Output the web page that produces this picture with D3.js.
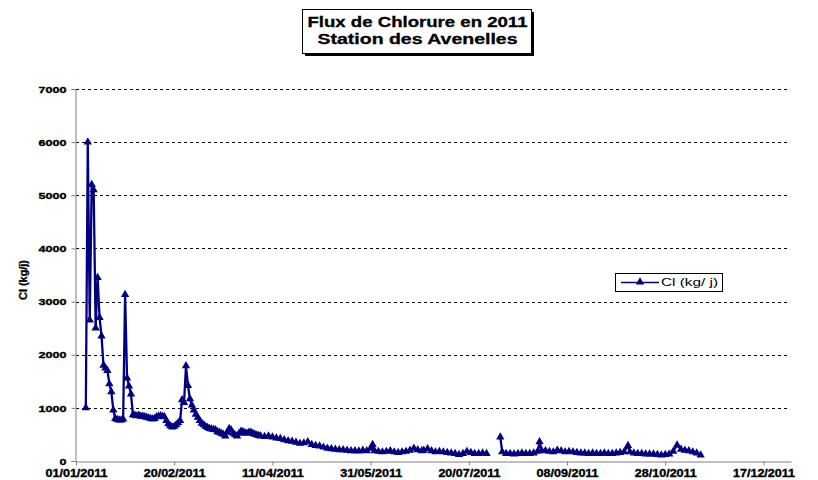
<!DOCTYPE html>
<html>
<head>
<meta charset="utf-8">
<script src="https://cdn.jsdelivr.net/npm/d3@7"></script>
<style>
  html, body { margin: 0; padding: 0; background: #fff; }
  svg { display: block; font-family: "Liberation Sans", Arial, sans-serif; }
</style>
</head>
<body>
<svg id="chart" width="818" height="480"></svg>
<script>
// ---- Data (day offset from 01/01/2011, flux Cl in kg/j) ----
const dayOffsets = [
  5,6,7,8,9,10,11,12,13,14,15,16,17,18,19,20,21,22,23,24,25,26,27,28,29,30,31,32,33,34,
  35,36,37,38,39,40,41,42,43,44,45,46,47,48,49,50,51,52,53,54,55,56,57,58,59,60,61,62,63,64,
  65,66,67,68,69,70,71,72,73,74,75,76,77,78,79,80,81,82,83,84,85,86,87,88,89,90,91,92,93,94,
  96,98,100,102,104,106,108,110,112,114,116,118,120,122,124,126,128,130,132,134,136,138,140,142,144,146,148,150,151,152,
  154,156,158,160,162,164,166,168,170,172,174,176,177,179,181,183,185,187,189,191,193,195,197,199,201,203,205,207,209,210,
  216,217,219,221,223,225,227,229,231,233,235,236,237,239,241,243,245,247,249,251,253,255,257,259,261,263,265,267,269,271,
  273,275,277,279,281,282,284,286,288,290,292,294,296,298,300,302,304,306,308,310,312,314,316,318
];
const clValues = [
  1000,6000,2650,5200,5100,2500,3450,2700,2350,1800,1750,1700,1450,1300,960,800,780,770,770,790,3130,1560,1410,1260,870,860,850,860,840,840,
  830,820,810,800,790,800,830,840,850,840,830,760,700,660,640,650,680,720,760,1150,1100,1790,1420,1170,1050,960,880,820,760,710,
  680,650,630,610,600,590,585,550,540,520,500,470,540,610,580,520,490,470,520,560,550,530,520,540,540,520,500,490,480,470,
  460,470,450,430,420,400,380,370,350,330,340,360,310,290,280,260,240,230,220,210,210,200,190,190,185,200,190,240,310,190,
  180,170,180,190,170,160,170,180,200,240,210,190,200,230,190,170,180,170,160,150,140,120,140,180,160,140,140,150,140,null,
  450,170,140,140,130,140,150,140,140,150,180,360,200,190,180,170,200,190,170,180,170,160,150,150,140,150,140,140,150,140,
  140,150,160,170,290,170,150,140,140,130,130,130,120,110,120,130,180,300,220,200,190,170,150,110
];
const yTicks = [0,1000,2000,3000,4000,5000,6000,7000];
const xTickLabels = ["01/01/2011","20/02/2011","11/04/2011","31/05/2011","20/07/2011","08/09/2011","28/10/2011","17/12/2011"];
const titleLines = ["Flux de Chlorure en 2011", "Station des Avenelles"];
const yTitle = "Cl (kg/j)";
const legendLabel = "Cl (kg/ j)";

// ---- Setup ----
const svg = d3.select("#chart");
const start = new Date(2011, 0, 1);
const end = new Date(2011, 11, 31);
const pLeft = 76, pRight = 791, pTop = 89, pBottom = 461;
const navy = "#000080";

const x = d3.scaleTime().domain([start, end]).range([pLeft, pRight]);
const y = d3.scaleLinear().domain([0, 7000]).range([pBottom, pTop]);

const data = dayOffsets.map((d, i) => ({ date: d3.timeDay.offset(start, d), v: clValues[i] }));
const tickDates = xTickLabels.map(s => d3.timeParse("%d/%m/%Y")(s));

// Gridlines (dashed)
svg.append("g").selectAll("line").data(yTicks.filter(t => t > 0)).join("line")
  .attr("x1", pLeft).attr("x2", pRight - 1)
  .attr("y1", d => Math.round(y(d)) + 0.5).attr("y2", d => Math.round(y(d)) + 0.5)
  .attr("stroke", "#000").attr("stroke-width", 1).attr("stroke-dasharray", "3,3");

// Y axis
const yAxis = svg.append("g").attr("transform", `translate(${pLeft - 0.5},0)`)
  .call(d3.axisLeft(y).tickValues(yTicks).tickSize(4).tickFormat(d3.format("d")));
yAxis.select(".domain").attr("stroke", "#808080");
yAxis.selectAll(".tick line").attr("stroke", "#808080");
yAxis.selectAll("text")
  .attr("font-size", 9).attr("font-weight", "bold").attr("fill", "#000")
  .attr("stroke", "#000").attr("stroke-width", 0.35)
  .attr("x", -9).attr("dy", "0.35em")
  .attr("textLength", d => String(d).length * 7)
  .attr("lengthAdjust", "spacingAndGlyphs");

// X axis
const xAxis = svg.append("g").attr("transform", `translate(0,${pBottom + 0.5})`)
  .call(d3.axisBottom(x).tickValues(tickDates).tickSize(4).tickSizeOuter(0)
    .tickFormat((d, i) => xTickLabels[i]));
xAxis.select(".domain").attr("stroke", "#808080");
xAxis.selectAll(".tick line").attr("stroke", "#808080");
xAxis.selectAll("text")
  .attr("font-size", 10).attr("font-weight", "bold").attr("fill", "#000")
  .attr("stroke", "#000").attr("stroke-width", 0.35)
  .attr("y", 8).attr("dy", "0.71em")
  .attr("textLength", 62).attr("lengthAdjust", "spacingAndGlyphs");

// Y title
svg.append("text")
  .attr("transform", `translate(27,280) rotate(-90)`)
  .attr("text-anchor", "middle")
  .attr("font-size", 10).attr("font-weight", "bold")
  .attr("stroke", "#000").attr("stroke-width", 0.3)
  .attr("textLength", 40).attr("lengthAdjust", "spacingAndGlyphs")
  .text(yTitle);

// Line
const line = d3.line().defined(d => d.v != null)
  .x(d => x(d.date)).y(d => y(d.v));
svg.append("path").datum(data)
  .attr("d", line).attr("fill", "none")
  .attr("stroke", navy).attr("stroke-width", 2.3).attr("stroke-linejoin", "round");

// Markers
const tri = d3.symbol().type(d3.symbolTriangle).size(30);
svg.append("g").selectAll("path").data(data.filter(d => d.v != null)).join("path")
  .attr("d", tri)
  .attr("transform", d => `translate(${x(d.date)},${y(d.v)})`)
  .attr("fill", navy);

// Title box with shadow
const tb = { x: 302, y: 9, w: 229, h: 44 };
svg.append("rect").attr("x", tb.x + 3).attr("y", tb.y + 3).attr("width", tb.w).attr("height", tb.h).attr("fill", "#000");
svg.append("rect").attr("x", tb.x + 0.5).attr("y", tb.y + 0.5).attr("width", tb.w).attr("height", tb.h)
  .attr("fill", "#fff").attr("stroke", "#000").attr("stroke-width", 1);
svg.append("text").attr("x", tb.x + tb.w / 2 + 1).attr("y", 27)
  .attr("text-anchor", "middle").attr("font-size", 14).attr("font-weight", "bold")
  .attr("stroke", "#000").attr("stroke-width", 0.3)
  .attr("textLength", 220).attr("lengthAdjust", "spacingAndGlyphs")
  .text(titleLines[0]);
svg.append("text").attr("x", tb.x + tb.w / 2 + 1).attr("y", 44)
  .attr("text-anchor", "middle").attr("font-size", 14).attr("font-weight", "bold")
  .attr("stroke", "#000").attr("stroke-width", 0.3)
  .attr("textLength", 200).attr("lengthAdjust", "spacingAndGlyphs")
  .text(titleLines[1]);

// Legend
const lg = svg.append("g");
lg.append("rect").attr("x", 615.5).attr("y", 273.5).attr("width", 107).attr("height", 18)
  .attr("fill", "#fff").attr("stroke", "#000").attr("stroke-width", 1);
lg.append("line").attr("x1", 621).attr("x2", 659).attr("y1", 282.5).attr("y2", 282.5)
  .attr("stroke", navy).attr("stroke-width", 1.5);
lg.append("path").attr("d", tri).attr("transform", "translate(640,282)").attr("fill", navy);
lg.append("text").attr("x", 661).attr("y", 286)
  .attr("font-size", 10)
  .attr("textLength", 57).attr("lengthAdjust", "spacingAndGlyphs")
  .text(legendLabel);
</script>
</body>
</html>
